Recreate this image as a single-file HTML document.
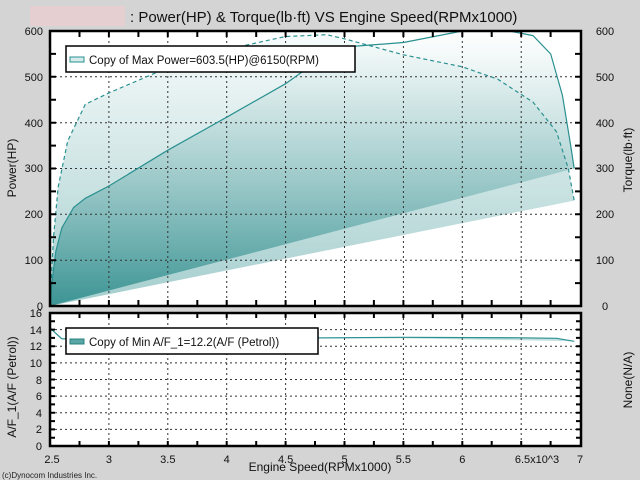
<!DOCTYPE html>
<html><head><meta charset="utf-8"><style>
html,body{margin:0;padding:0;background:#d4d4d4;}
svg{display:block;font-family:"Liberation Sans","DejaVu Sans",sans-serif;}
</style></head><body>
<svg width="640" height="480" viewBox="0 0 640 480" xmlns="http://www.w3.org/2000/svg">
<defs>
<linearGradient id="g" x1="0" y1="0" x2="0" y2="1">
<stop offset="0" stop-color="#ffffff" stop-opacity="0.6"/>
<stop offset="1" stop-color="#2a8a8a" stop-opacity="0.85"/>
</linearGradient>
<linearGradient id="g2" x1="0" y1="0" x2="0" y2="1">
<stop offset="0" stop-color="#eef6f6" stop-opacity="0.5"/>
<stop offset="1" stop-color="#5aa5a5" stop-opacity="0.55"/>
</linearGradient>
</defs>
<rect x="30" y="6" width="95" height="20" fill="#e6cfd0"/>
<text x="130" y="22" font-size="15" fill="#111">: Power(HP) &amp; Torque(lb·ft) VS Engine Speed(RPMx1000)</text>
<!-- top plot -->
<rect x="50" y="31" width="531" height="275" fill="#fff"/>
<polygon fill="url(#g2)" points="50,306 53.5,237.3 58.2,186.8 67.7,141 85.3,104.3 108.9,92.9 167.8,67.7 226.7,49.4 285.6,36.5 326.8,34.7 344.5,38.8 403.4,54.8 462.3,66.8 497.6,79.1 533,102.1 556.5,131.8 568.3,168.5 574.2,200.6"/>
<polygon fill="url(#g)" points="50,306 52.4,278.5 55.9,251 61.8,228 73.6,207.5 85.3,198.3 108.9,186 167.8,150.2 226.7,117.2 285.6,83.7 320.9,58.5 344.5,47 403.4,42.5 438.7,35.6 462.3,31 509.4,31 533,35.6 550.7,54 562.4,95.2 570.7,145.6 574.2,168.5"/>
<g stroke="#333" stroke-width="1" stroke-dasharray="2,3">
<line x1="108.9" y1="31" x2="108.9" y2="306"/><line x1="167.8" y1="31" x2="167.8" y2="306"/><line x1="226.7" y1="31" x2="226.7" y2="306"/><line x1="285.6" y1="31" x2="285.6" y2="306"/><line x1="344.5" y1="31" x2="344.5" y2="306"/><line x1="403.4" y1="31" x2="403.4" y2="306"/><line x1="462.3" y1="31" x2="462.3" y2="306"/><line x1="521.2" y1="31" x2="521.2" y2="306"/>
<line x1="50" y1="260.2" x2="581" y2="260.2"/><line x1="50" y1="214.3" x2="581" y2="214.3"/><line x1="50" y1="168.5" x2="581" y2="168.5"/><line x1="50" y1="122.7" x2="581" y2="122.7"/><line x1="50" y1="76.8" x2="581" y2="76.8"/>
</g>
<polyline fill="none" stroke="#2a9090" stroke-width="1.2" points="50,306 52.4,278.5 55.9,251 61.8,228 73.6,207.5 85.3,198.3 108.9,186 167.8,150.2 226.7,117.2 285.6,83.7 320.9,58.5 344.5,47 403.4,42.5 438.7,35.6 462.3,31 509.4,31 533,35.6 550.7,54 562.4,95.2 570.7,145.6 574.2,168.5"/>
<polyline fill="none" stroke="#2a9090" stroke-width="1.2" stroke-dasharray="4,3" points="50,306 53.5,237.3 58.2,186.8 67.7,141 85.3,104.3 108.9,92.9 167.8,67.7 226.7,49.4 285.6,36.5 326.8,34.7 344.5,38.8 403.4,54.8 462.3,66.8 497.6,79.1 533,102.1 556.5,131.8 568.3,168.5 574.2,200.6"/>
<g stroke="#000" stroke-width="2">
<path d="M79.5,306v-6M108.9,306v-6M138.4,306v-6M167.8,306v-6M197.3,306v-6M226.7,306v-6M256.2,306v-6M285.6,306v-6M315,306v-6M344.5,306v-6M373.9,306v-6M403.4,306v-6M432.8,306v-6M462.3,306v-6M491.7,306v-6M521.2,306v-6M550.6,306v-6"/>
<path d="M79.5,31v6M108.9,31v6M138.4,31v6M167.8,31v6M197.3,31v6M226.7,31v6M256.2,31v6M285.6,31v6M315,31v6M344.5,31v6M373.9,31v6M403.4,31v6M432.8,31v6M462.3,31v6M491.7,31v6M521.2,31v6M550.6,31v6"/>
<path d="M50,283.1h6M50,260.2h6M50,237.2h6M50,214.3h6M50,191.4h6M50,168.5h6M50,145.6h6M50,122.7h6M50,99.7h6M50,76.8h6M50,53.9h6"/>
<path d="M581,283.1h-6M581,260.2h-6M581,237.2h-6M581,214.3h-6M581,191.4h-6M581,168.5h-6M581,145.6h-6M581,122.7h-6M581,99.7h-6M581,76.8h-6M581,53.9h-6"/>
</g>
<rect x="50" y="31" width="531" height="275" fill="none" stroke="#000" stroke-width="2.5"/>
<rect x="66" y="46" width="289" height="26" fill="#fff" stroke="#000" stroke-width="1.5"/>
<rect x="70" y="57" width="14" height="5" fill="#d6ecec" stroke="#2a9090"/>
<text x="89" y="64" font-size="11.5" fill="#111">Copy of Max Power=603.5(HP)@6150(RPM)</text>
<g font-size="11" fill="#111" text-anchor="end">
<text x="43" y="35">600</text><text x="43" y="81">500</text><text x="43" y="127">400</text><text x="43" y="172">300</text><text x="43" y="218">200</text><text x="43" y="264">100</text><text x="43" y="310">0</text>
</g>
<g font-size="11" fill="#111" text-anchor="middle">
<text x="605" y="35">600</text><text x="605" y="81">500</text><text x="605" y="127">400</text><text x="605" y="172">300</text><text x="605" y="218">200</text><text x="605" y="264">100</text><text x="605" y="310">0</text>
</g>
<text transform="translate(16,168) rotate(-90)" font-size="12" fill="#111" text-anchor="middle">Power(HP)</text>
<text transform="translate(632,160) rotate(-90)" font-size="12" fill="#111" text-anchor="middle">Torque(lb·ft)</text>
<!-- bottom plot -->
<rect x="50" y="313" width="531" height="133" fill="#fff"/>
<polygon fill="#5aa5a5" fill-opacity="0.35" points="50,328 61.8,338.8 226.7,338 403.4,337 521.2,337.5 556.5,338 574.2,341.3 403.4,338.4 226.7,339 61.8,339.5"/>
<g stroke="#333" stroke-width="1" stroke-dasharray="2,3">
<line x1="108.9" y1="313" x2="108.9" y2="446"/><line x1="167.8" y1="313" x2="167.8" y2="446"/><line x1="226.7" y1="313" x2="226.7" y2="446"/><line x1="285.6" y1="313" x2="285.6" y2="446"/><line x1="344.5" y1="313" x2="344.5" y2="446"/><line x1="403.4" y1="313" x2="403.4" y2="446"/><line x1="462.3" y1="313" x2="462.3" y2="446"/><line x1="521.2" y1="313" x2="521.2" y2="446"/>
<line x1="50" y1="429.4" x2="581" y2="429.4"/><line x1="50" y1="412.8" x2="581" y2="412.8"/><line x1="50" y1="396.1" x2="581" y2="396.1"/><line x1="50" y1="379.5" x2="581" y2="379.5"/><line x1="50" y1="362.9" x2="581" y2="362.9"/><line x1="50" y1="346.3" x2="581" y2="346.3"/><line x1="50" y1="329.6" x2="581" y2="329.6"/>
</g>
<polyline fill="none" stroke="#2a9090" stroke-width="1.2" points="50,328 61.8,338.8 226.7,338.5 403.4,337.3 521.2,337.8 556.5,338.3 574.2,341.3"/>
<g stroke="#000" stroke-width="2">
<path d="M79.5,446v-5M108.9,446v-5M138.4,446v-5M167.8,446v-5M197.3,446v-5M226.7,446v-5M256.2,446v-5M285.6,446v-5M315,446v-5M344.5,446v-5M373.9,446v-5M403.4,446v-5M432.8,446v-5M462.3,446v-5M491.7,446v-5M521.2,446v-5M550.6,446v-5"/>
<path d="M79.5,313v5M108.9,313v5M138.4,313v5M167.8,313v5M197.3,313v5M226.7,313v5M256.2,313v5M285.6,313v5M315,313v5M344.5,313v5M373.9,313v5M403.4,313v5M432.8,313v5M462.3,313v5M491.7,313v5M521.2,313v5M550.6,313v5"/>
<path d="M50,437.7h5M50,429.4h5M50,421.1h5M50,412.8h5M50,404.4h5M50,396.1h5M50,387.8h5M50,379.5h5M50,371.2h5M50,362.9h5M50,354.6h5M50,346.3h5M50,337.9h5M50,329.6h5M50,321.3h5"/>
<path d="M581,437.7h-5M581,429.4h-5M581,421.1h-5M581,412.8h-5M581,404.4h-5M581,396.1h-5M581,387.8h-5M581,379.5h-5M581,371.2h-5M581,362.9h-5M581,354.6h-5M581,346.3h-5M581,337.9h-5M581,329.6h-5M581,321.3h-5"/>
</g>
<rect x="50" y="313" width="531" height="133" fill="none" stroke="#000" stroke-width="2.5"/>
<rect x="66" y="328" width="252" height="26" fill="#fff" stroke="#000" stroke-width="1.5"/>
<rect x="70" y="339" width="14" height="5" fill="#5aa5a5" stroke="#2a8080"/>
<text x="89" y="346" font-size="11.5" fill="#111">Copy of Min A/F_1=12.2(A/F (Petrol))</text>
<g font-size="11" fill="#111" text-anchor="end">
<text x="42" y="317">16</text><text x="42" y="334">14</text><text x="42" y="350">12</text><text x="42" y="367">10</text><text x="42" y="384">8</text><text x="42" y="400">6</text><text x="42" y="417">4</text><text x="42" y="433">2</text><text x="42" y="450">0</text>
</g>
<text transform="translate(16,387) rotate(-90)" font-size="12" fill="#111" text-anchor="middle">A/F_1(A/F (Petrol))</text>
<text transform="translate(632,380) rotate(-90)" font-size="12" fill="#111" text-anchor="middle">None(N/A)</text>
<g font-size="11" fill="#111" text-anchor="middle">
<text x="52" y="463">2.5</text><text x="108.9" y="463">3</text><text x="167.8" y="463">3.5</text><text x="226.7" y="463">4</text><text x="285.6" y="463">4.5</text><text x="344.5" y="463">5</text><text x="403.4" y="463">5.5</text><text x="462.3" y="463">6</text><text x="537" y="463">6.5x10^3</text><text x="580" y="463">7</text>
</g>
<text x="320" y="471" font-size="12" fill="#111" text-anchor="middle">Engine Speed(RPMx1000)</text>
<text x="2" y="478" font-size="8" fill="#222">(c)Dynocom Industries Inc.</text>
</svg>
</body></html>
